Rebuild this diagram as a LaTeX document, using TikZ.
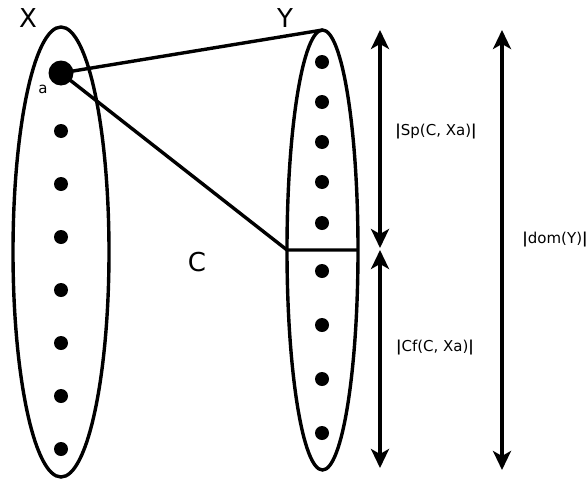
\documentclass[tikz,border=0pt]{standalone}
\usepackage{fontspec}
\setmainfont{DejaVu Sans}
\usetikzlibrary{shapes.geometric,arrows.meta}
\begin{document}
\begin{tikzpicture}[x=1pt,y=-1pt,
  setell/.style={draw,line width=3.4pt,ellipse,inner sep=0pt,outer sep=0pt},
  dotnode/.style={circle,fill=black,inner sep=0pt,minimum size=14pt},
  bigdot/.style={circle,fill=black,inner sep=0pt,minimum size=25pt},
  conn/.style={line width=3.4pt},
  dim/.style={line width=3.4pt,{Stealth[length=19pt,width=18pt,inset=5pt]}-{Stealth[length=19pt,width=18pt,inset=5pt]}},
  biglab/.style={font=\fontsize{26}{28}\selectfont,inner sep=0pt},
  smalllab/.style={font=\fontsize{15}{17}\selectfont,inner sep=0pt}
]
\useasboundingbox (0,0) rectangle (588,479);
% sets
\node[setell,minimum width=96pt,minimum height=450pt] (Xell) at (61,252) {};
\node[setell,minimum width=71pt,minimum height=440pt] (Yell) at (322.5,250) {};
% labels
\node[biglab] (lX) at (28,18) {X};
\node[biglab] (lY) at (285,18) {Y};
\node[biglab] (lC) at (197,262) {C};
\node[smalllab] (la) at (43,89) {a};
% dots in X
\node[bigdot] (a) at (61,73) {};
\foreach \yy [count=\i] in {131,184,237,290,343,396,449}
  \node[dotnode] (x\i) at (61,\yy) {};
% dots in Y
\foreach \yy [count=\i] in {62,102,142,182,223,271,325,379,433}
  \node[dotnode] (y\i) at (322,\yy) {};
% connectors
\draw[conn] (a.center) -- (Yell.north);
\draw[conn] (a.center) -- (Yell.west) -- (Yell.east);
% dimension arrows
\coordinate (s1) at (380,30);
\coordinate (s2) at (380,248);
\coordinate (c1) at (380,250);
\coordinate (c2) at (380,468);
\coordinate (d1) at (502,30);
\coordinate (d2) at (502,470);
\draw[dim] (s1) -- (s2);
\draw[dim] (c1) -- (c2);
\draw[dim] (d1) -- (d2);
\node[smalllab] (lsp) at (436,132) {\textbf{|}Sp(C, Xa)\textbf{|}};
\node[smalllab] (lcf) at (435,348) {\textbf{|}Cf(C, Xa)\textbf{|}};
\node[smalllab] (ldom) at (555,240) {\textbf{|}dom(Y)\textbf{|}};
\end{tikzpicture}
\end{document}
